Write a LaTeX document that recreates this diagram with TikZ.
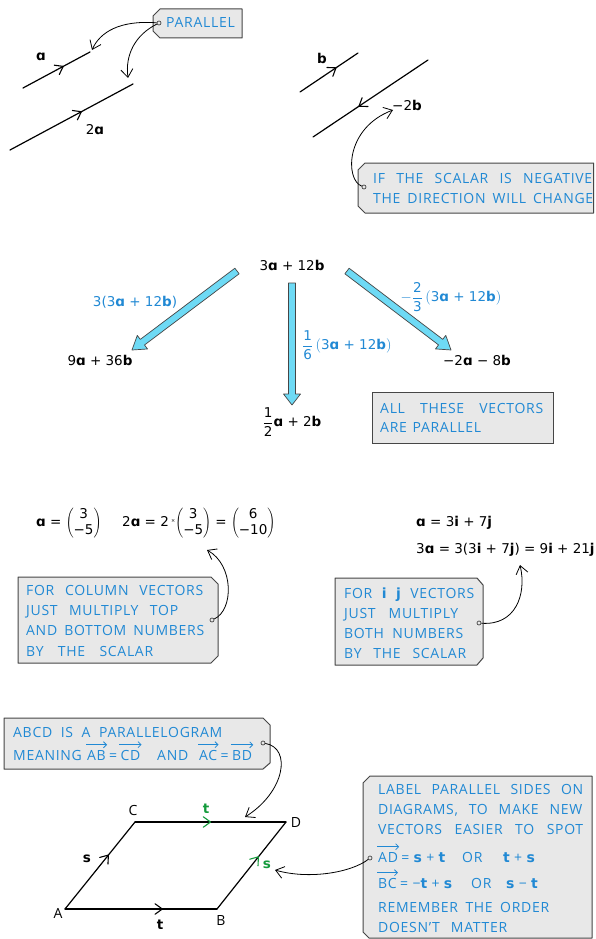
\documentclass[tikz,border=0pt]{standalone}
\usepackage{fontspec}
\setmainfont{DejaVu Sans}
\newfontfamily\capsfont[LetterSpace=5]{Open Sans}
\usetikzlibrary{arrows.meta,calc}
\definecolor{tblue}{RGB}{33,137,212}
\definecolor{boxfill}{RGB}{232,232,232}
\definecolor{boxline}{RGB}{70,70,70}
\definecolor{arrfill}{RGB}{110,218,245}
\definecolor{tgreen}{RGB}{20,155,60}
\newcommand\vecA{{\normalfont\bfseries ɑ}}
\newcommand\vecB{{\normalfont\bfseries b}}
\newcommand\vecI{{\normalfont\bfseries i}}
\newcommand\vecJ{{\normalfont\bfseries j}}
\newcommand\vecS{{\normalfont\bfseries s}}
\newcommand\vecT{{\normalfont\bfseries t}}
\newcommand\colv[2]{$\left(\begin{array}{@{}c@{}}\mbox{#1}\\\mbox{#2}\end{array}\right)$}
\newcommand\myfatarrow[4]{% start, end, head length, head half width
  \coordinate (fh) at ($(#2)!#3!(#1)$);
  \filldraw[fat] ($(#1)!3.5pt!90:(#2)$) -- ($(fh)!3.5pt!90:(#2)$) -- ($(fh)!#4!90:(#2)$) -- (#2)
    -- ($(fh)!#4!-90:(#2)$) -- ($(fh)!3.5pt!-90:(#2)$) -- ($(#1)!3.5pt!-90:(#2)$) -- cycle;}
\newcommand\mychev[4]{% colour, from, to, position
  \coordinate (cp) at ($(#2)!#4!(#3)$);
  \draw[chevl, #1] ($(cp)!9pt!36:(#2)$) -- (cp) -- ($(cp)!9pt!-36:(#2)$);}
\newcommand\overarr[1]{\draw[ovarr] ($(#1.north west)+(-1,-5)$) -- ($(#1.north east)+(1,-5)$);}
\tikzset{
  vline/.style={line width=1.2pt, line cap=round},
  chevl/.style={line width=1.1pt, line cap=round, line join=round},
  conn/.style={line width=0.8pt, -{Straight Barb[length=8pt,width=12pt,line width=0.8pt]}},
  ovarr/.style={draw=tblue, line width=0.8pt, -{Straight Barb[length=3pt,width=6pt,line width=0.8pt]}},
  tagbox/.style={fill=boxfill, draw=boxline, line width=1pt, line join=round},
  hole/.style={circle, draw=boxline, fill=boxfill, line width=0.7pt, inner sep=0pt, minimum size=4pt},
  captxt/.style={font=\capsfont\fontsize{14}{16}\selectfont, text=tblue, inner sep=0pt, anchor=base west},
  lbl/.style={font=\capsfont\fontsize{14}{16}\selectfont, inner sep=0pt},
  mtxt/.style={font=\fontsize{13.5}{16}\selectfont, inner sep=0pt},
  fat/.style={fill=arrfill, draw=boxline, line width=0.7pt, line join=round},
}
\begin{document}
\begin{tikzpicture}[x=1pt,y=-1pt]
\useasboundingbox (0,0) rectangle (595,939);
\fill[white] (0,0) rectangle (595,939);

% ---------- top left: a and 2a ----------
\coordinate (a1) at (23,88); \coordinate (a2) at (90,52);
\draw[vline] (a1) -- (a2); \mychev{black}{a1}{a2}{0.6}
\node[mtxt] (la) at (41,57) {\vecA};
\coordinate (c1) at (10,150); \coordinate (c2) at (133,84);
\draw[vline] (c1) -- (c2); \mychev{black}{c1}{c2}{0.58}
\node[mtxt] (l2a) at (95,130) {2\vecA};
\filldraw[tagbox] (160,9) -- (242,9) -- (242,38) -- (160,38) -- (153,31) -- (153,16) -- cycle;
\node[hole] (h1) at (159,23) {};
\node[captxt] (tpar) at (166,28) {PARALLEL};
\coordinate (t1) at (92,50); \coordinate (t2) at (128,78);
\draw[conn] (h1) .. controls (120,20) and (100,32) .. (t1);
\draw[conn] (h1) .. controls (135,35) and (125,55) .. (t2);

% ---------- top right: b and -2b ----------
\coordinate (b1) at (300,92); \coordinate (b2) at (358,53);
\draw[vline] (b1) -- (b2); \mychev{black}{b1}{b2}{0.62}
\node[mtxt] (lb) at (322,58) {\vecB};
\coordinate (d1) at (428,60); \coordinate (d2) at (313,137);
\draw[vline] (d1) -- (d2); \mychev{black}{d1}{d2}{0.6}
\node[mtxt] (lm2b) at (407,105) {−2\vecB};
\filldraw[tagbox] (365,163) -- (593.5,163) -- (593.5,213) -- (365,213) -- (358,206) -- (358,170) -- cycle;
\node[hole] (h2) at (364,187) {};
\node[captxt] at (373,183) {\makebox[219pt][s]{IF THE SCALAR IS NEGATIVE}};
\node[captxt] at (373,203) {\makebox[220pt][s]{THE DIRECTION WILL CHANGE}};
\coordinate (t3) at (393,110);
\draw[conn] (h2) .. controls (345,180) and (345,128) .. (t3);

% ---------- middle: scalar multiples ----------
\node[mtxt] (top) at (292,265) {3\vecA{} + 12\vecB};
\node[mtxt] (nl) at (100,360) {9\vecA{} + 36\vecB};
\node[mtxt] (nm) at (292,422) {$\displaystyle\frac{\mbox{1}}{\mbox{2}}$\vecA{} + 2\vecB};
\node[mtxt] (nr) at (477,360) {−2\vecA{} − 8\vecB};
\coordinate (fa1) at (237,271); \coordinate (fa2) at (132,350);
\coordinate (fb1) at (292,283); \coordinate (fb2) at (292,405);
\coordinate (fc1) at (347,271); \coordinate (fc2) at (451,350);
\myfatarrow{fa1}{fa2}{13pt}{8.5pt}
\myfatarrow{fb1}{fb2}{11pt}{8.5pt}
\myfatarrow{fc1}{fc2}{13pt}{8.5pt}
\node[mtxt, text=tblue] (lab1) at (135,302) {3(3\vecA{} + 12\vecB)};
\node[mtxt, text=tblue, anchor=west] (lab2) at (302,345) {$\displaystyle\frac{\mbox{1}}{\mbox{6}}\left(\mbox{3\vecA{} + 12\vecB}\right)$};
\node[mtxt, text=tblue] (lab3) at (451,297) {$\displaystyle-\frac{\mbox{2}}{\mbox{3}}\left(\mbox{3\vecA{} + 12\vecB}\right)$};
\draw[fill=boxfill, draw=boxline, line width=1pt] (372,392) rectangle (553,443);
\node[captxt] at (380,413) {\makebox[163pt][s]{ALL THESE VECTORS}};
\node[captxt] at (380,432) {\makebox[101pt][s]{ARE PARALLEL}};

% ---------- column vectors ----------
\node[mtxt, anchor=west] (cv1) at (36,523) {\vecA{} = \colv{3}{−5}};
\node[mtxt, anchor=west] (cv2) at (122,523) {2\vecA{} = 2\,\raisebox{0.5ex}{\tiny×}\colv{3}{−5} = \colv{6}{−10}};
\filldraw[tagbox] (18,577) -- (211,577) -- (218,584) -- (218,656) -- (211,663) -- (18,663) -- cycle;
\node[hole] (h3) at (212,620) {};
\node[captxt] at (26,595) {\makebox[177pt][s]{FOR COLUMN VECTORS}};
\node[captxt] at (26,615) {\makebox[152pt][s]{JUST MULTIPLY TOP}};
\node[captxt] at (26,635) {\makebox[178pt][s]{AND BOTTOM NUMBERS}};
\node[captxt] at (26,656) {\makebox[127pt][s]{BY THE SCALAR}};
\coordinate (t4) at (207,550);
\draw[conn] (h3) .. controls (234,610) and (234,565) .. (t4);

% ---------- i j vectors ----------
\node[mtxt, anchor=west] (ij1) at (416,523) {\vecA{} = 3\vecI{} + 7\vecJ};
\node[mtxt, anchor=west] (ij2) at (416,550) {3\vecA{} = 3(3\vecI{} + 7\vecJ) = 9\vecI{} + 21\vecJ};
\filldraw[tagbox] (335,578) -- (477,578) -- (483,585) -- (483,658) -- (477,665) -- (335,665) -- cycle;
\node[hole] (h4) at (479,623) {};
\node[captxt] at (344,598) {\makebox[130pt][s]{FOR \vecI\ \vecJ\ VECTORS}};
\node[captxt] at (344,618) {\makebox[114pt][s]{JUST MULTIPLY}};
\node[captxt] at (344,638) {\makebox[119pt][s]{BOTH NUMBERS}};
\node[captxt] at (344,658) {\makebox[122pt][s]{BY THE SCALAR}};
\coordinate (t5) at (520,565);
\draw[conn] (h4) .. controls (515,626) and (527,595) .. (t5);

% ---------- parallelogram ----------
\filldraw[tagbox] (4,718) -- (263,718) -- (270,725) -- (270,763) -- (263,769) -- (4,769) -- cycle;
\node[hole] (h5) at (263,743) {};
\node[captxt] at (13,737) {\makebox[209pt][s]{ABCD IS A PARALLELOGRAM}};
\node[captxt] at (13,760) {MEANING};
\node[captxt] (vAB) at (87,760) {AB};
\node[captxt] (eq1) at ([xshift=3pt]vAB.base east) {=};
\node[captxt] (vCD) at ([xshift=3pt]eq1.base east) {CD};
\node[captxt] at (157,760) {AND};
\node[captxt] (vAC) at (199,760) {AC};
\node[captxt] (eq2) at ([xshift=3pt]vAC.base east) {=};
\node[captxt] (vBD) at ([xshift=3pt]eq2.base east) {BD};
\overarr{vAB} \overarr{vCD} \overarr{vAC} \overarr{vBD}
\coordinate (t6) at (245,817);
\draw[conn] (h5) .. controls (292,748) and (285,792) .. (t6);

\coordinate (A) at (65,909); \coordinate (B) at (217,909);
\coordinate (C) at (135,822); \coordinate (D) at (286,822);
\draw[vline] (A) -- (B); \mychev{black}{A}{B}{0.64}
\draw[vline] (A) -- (C); \mychev{black}{A}{C}{0.62}
\draw[vline] (C) -- (D); \mychev{tgreen}{C}{D}{0.5}
\draw[vline] (B) -- (D); \mychev{tgreen}{B}{D}{0.6}
\node[lbl] (lA) at (58,913) {A};
\node[lbl] (lB) at (221,920) {B};
\node[lbl] (lC) at (133,810) {C};
\node[lbl] (lD) at (296,822) {D};
\node[mtxt] (lt1) at (160,925) {\vecT};
\node[mtxt] (ls1) at (87,859) {\vecS};
\node[mtxt, text=tgreen] (lt2) at (206,809) {\vecT};
\node[mtxt, text=tgreen] (ls2) at (267,865) {\vecS};

% ---------- right box ----------
\filldraw[tagbox] (370,776) -- (592,776) -- (592,938) -- (369,938) -- (363,932) -- (363,783) -- cycle;
\node[hole] (h6) at (370,858) {};
\node[captxt] at (378,794) {\makebox[205pt][s]{LABEL PARALLEL SIDES ON}};
\node[captxt] at (378,814) {\makebox[204pt][s]{DIAGRAMS, TO MAKE NEW}};
\node[captxt] at (378,834) {\makebox[205pt][s]{VECTORS EASIER TO SPOT}};
\node[captxt] (vAD) at (378,862) {AD};
\node[captxt] (rAD) at ([xshift=3pt]vAD.base east) {= \vecS{} + \vecT};
\node[captxt] at (462,862) {OR};
\node[captxt] at (503,862) {\vecT{} + \vecS};
\node[captxt] (vBC) at (378,888) {BC};
\node[captxt] (rBC) at ([xshift=3pt]vBC.base east) {= −\vecT{} + \vecS};
\node[captxt] at (471,888) {OR};
\node[captxt] at (506,888) {\vecS{} − \vecT};
\overarr{vAD} \overarr{vBC}
\node[captxt] at (378,912) {\makebox[171pt][s]{REMEMBER THE ORDER}};
\node[captxt] at (378,932) {\makebox[129pt][s]{DOESN’T MATTER}};
\coordinate (t7) at (275,870);
\draw[conn] (h6) .. controls (352,872) and (310,880) .. (t7);
\end{tikzpicture}
\end{document}
